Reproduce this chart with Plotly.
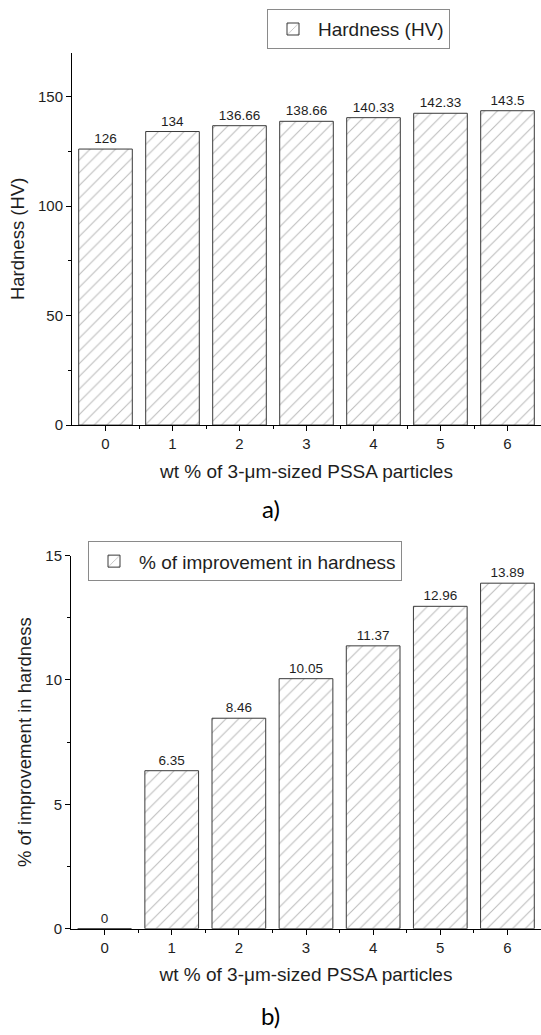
import plotly.graph_objects as go

# Hardness measurements vs. particle loading
wt_percent = [0, 1, 2, 3, 4, 5, 6]
hardness_hv = [126, 134, 136.66, 138.66, 140.33, 142.33, 143.5]
improvement_pct = [0, 6.35, 8.46, 10.05, 11.37, 12.96, 13.89]

x_title = "wt % of 3-\u03bcm-sized PSSA particles"
W, H = 541, 1035

FONT = "Liberation Sans, Arial, sans-serif"
TXT = "#1e1e1e"
hatch = dict(shape="/", fgcolor="#7a7a7a", bgcolor="white", size=9, solidity=0.12)
bar_line = dict(color="#3a3a3a", width=1)


def fmt(v):
    return f"{v:g}"


fig = go.Figure()

fig.add_trace(go.Bar(
    x=wt_percent, y=hardness_hv, width=0.8,
    name="Hardness (HV)", showlegend=True,
    marker=dict(color="white", pattern=hatch, line=bar_line),
    text=[fmt(v) for v in hardness_hv], textposition="outside",
    textfont=dict(family=FONT, size=13.5, color=TXT),
    cliponaxis=False, xaxis="x", yaxis="y", legend="legend",
))

fig.add_trace(go.Bar(
    x=wt_percent, y=improvement_pct, width=0.8,
    name="% of improvement in hardness", showlegend=True,
    marker=dict(color="white", pattern=hatch, line=bar_line),
    text=[fmt(v) for v in improvement_pct], textposition="outside",
    textfont=dict(family=FONT, size=13.5, color=TXT),
    cliponaxis=False, xaxis="x2", yaxis="y2", legend="legend2",
))


def px_x(p):
    return p / W


def px_y(p):
    return 1 - p / H


common_x = dict(
    range=[-0.5, 6.5], tickmode="array", tickvals=wt_percent,
    ticktext=[str(v) for v in wt_percent],
    showline=True, linecolor="black", linewidth=1,
    ticks="outside", ticklen=5, tickcolor="black",
    minor=dict(tickvals=[v + 0.5 for v in wt_percent[:-1]], ticks="outside",
               ticklen=3, tickcolor="black"),
    showgrid=False, zeroline=False,
    tickfont=dict(family=FONT, size=15, color=TXT),
    title=dict(text=x_title, font=dict(family=FONT, size=19, color=TXT), standoff=13),
)

common_y = dict(
    showline=True, linecolor="black", linewidth=1,
    ticks="outside", ticklen=5, tickcolor="black",
    showgrid=False, zeroline=False,
    tickfont=dict(family=FONT, size=15, color=TXT),
)

legend_style = dict(xanchor="left", bgcolor="white",
                    bordercolor="#8a8a8a", borderwidth=1, itemwidth=40,
                    font=dict(family=FONT, size=19, color=TXT))

fig.update_layout(
    width=W, height=H,
    margin=dict(l=0, r=0, t=0, b=0),
    paper_bgcolor="white", plot_bgcolor="white",
    showlegend=True,
    xaxis=dict(domain=[px_x(72), 1], anchor="y", **common_x),
    yaxis=dict(domain=[px_y(423), px_y(44.4)], anchor="x", range=[0, 170],
               dtick=50, minor=dict(dtick=25, ticks="outside", ticklen=3, tickcolor="black"),
               title=dict(text="Hardness (HV)", font=dict(family=FONT, size=18.5, color=TXT),
                          standoff=8),
               **common_y),
    xaxis2=dict(domain=[px_x(71), 1], anchor="y2", **common_x),
    yaxis2=dict(domain=[px_y(935), px_y(555.7)], anchor="x2", range=[0, 15],
                dtick=5, minor=dict(dtick=2.5, ticks="outside", ticklen=3, tickcolor="black"),
                title=dict(text="% of improvement in hardness",
                           font=dict(family=FONT, size=18.5, color=TXT), standoff=8),
                **common_y),
    legend=dict(x=px_x(267), y=px_y(20.5), yanchor="middle", **legend_style),
    legend2=dict(x=px_x(88), y=px_y(561.5), yanchor="middle", **legend_style),
    annotations=[
        dict(text="a)", x=0.5, y=px_y(508), xref="paper", yref="paper",
             xanchor="center", yanchor="middle", showarrow=False,
             font=dict(family="Lato, sans-serif", size=24, color="black")),
        dict(text="b)", x=0.5, y=px_y(1023), xref="paper", yref="paper",
             xanchor="center", yanchor="middle", showarrow=False,
             font=dict(family="Lato, sans-serif", size=24, color="black")),
    ],
)

fig.write_html("out.html")
